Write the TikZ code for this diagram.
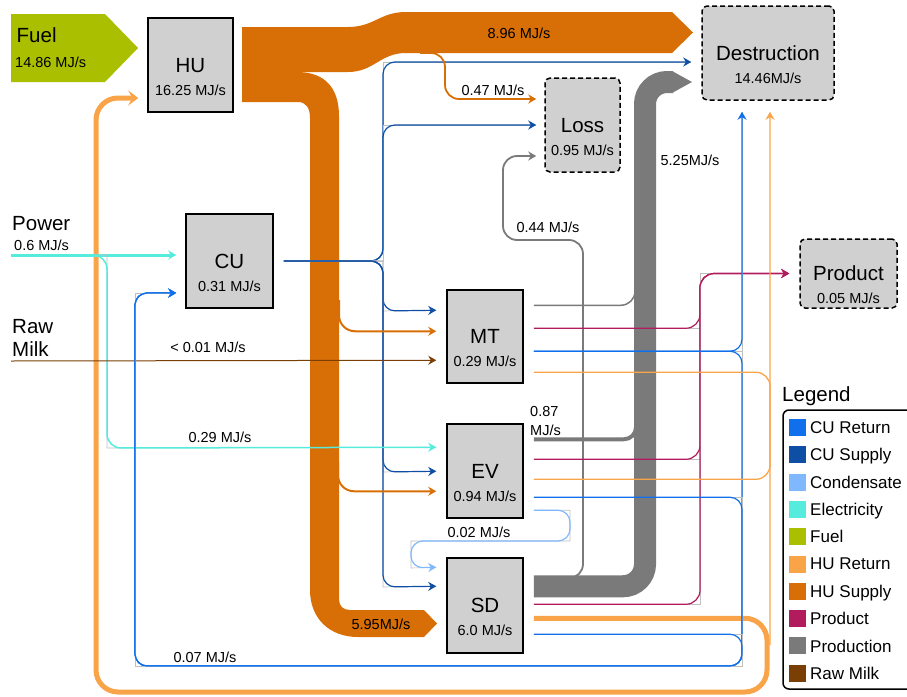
\documentclass[tikz,border=0pt]{standalone}
\usepackage{fontspec}
\setmainfont{Liberation Sans}
\usepackage{tikz}
\usetikzlibrary{arrows.meta,calc}

\definecolor{curet}{RGB}{16,112,236}
\definecolor{cusup}{RGB}{14,78,164}
\definecolor{conden}{RGB}{127,184,252}
\definecolor{elec}{RGB}{85,236,222}
\definecolor{fuel}{RGB}{169,191,0}
\definecolor{huret}{RGB}{249,164,73}
\definecolor{husup}{RGB}{216,111,6}
\definecolor{prodct}{RGB}{178,28,94}
\definecolor{prodn}{RGB}{122,122,122}
\definecolor{rawmilk}{RGB}{122,63,5}
\definecolor{boxgray}{RGB}{208,208,208}

% a flow drawn over its sharp-cornered gray guide
\newcommand{\guided}[2]{\draw[guide] #2; \draw[#1] #2;}

\begin{document}
\begin{tikzpicture}[x=1pt, y=-1pt,
  box/.style={draw=black, line width=1.5pt, fill=boxgray, inner sep=0pt},
  sink/.style={box, rounded corners=5pt, dash pattern=on 5pt off 3pt},
  ttl/.style={font=\fontsize{20.5}{24}\selectfont, inner sep=0pt, text depth=0pt},
  val/.style={font=\fontsize{14.5}{17}\selectfont, inner sep=0pt, text depth=0pt},
  leg/.style={font=\fontsize{17}{20}\selectfont, inner sep=0pt, text depth=0pt, anchor=west},
  guide/.style={draw=black!25, line width=0.6pt},
  tip/.style={-{Stealth[length=8pt,width=9pt]}},
  cs/.style={cusup, line width=1.2pt, rounded corners=12pt, tip},
  cr/.style={curet, line width=1.2pt, rounded corners=12pt},
  el/.style={elec, line width=1.5pt, rounded corners=14pt, tip},
  pr/.style={prodct, line width=1.2pt, rounded corners=14pt, tip},
  cd/.style={conden, line width=1.2pt, rounded corners=12pt, tip}]
\useasboundingbox (0,0) rectangle (907,696);
% units: 1pt = 1px of the sheet, y grows downwards
% process units
\foreach \n/\x/\y/\w/\h/\t/\v in {hu/190.5/65/85/94/HU/{16.25 MJ/s}, cu/229.5/261/87/94/CU/{0.31 MJ/s},
    mt/485/336.5/76/93/MT/{0.29 MJ/s}, ev/485/471/76/94/EV/{0.94 MJ/s}, sd/485/605.5/76/95/SD/{6.0 MJ/s}} {
  \node[box, minimum width=\w pt, minimum height=\h pt] (\n) at (\x,\y) {};
  \node[ttl] (\n-t) at (\x,\y) {\t};
  \node[val] (\n-v) at (\x,\y+25) {\v};
}
% sinks (dashed)
\foreach \n/\x/\y/\w/\h/\t/\v in {loss/582.5/125/75/94/Loss/{0.95 MJ/s}, dest/768/53/132/94/Destruction/{14.46MJ/s},
    product/848.5/273.5/97/69/Product/{0.05 MJ/s}} {
  \node[sink, minimum width=\w pt, minimum height=\h pt] (\n) at (\x,\y) {};
  \node[ttl] (\n-t) at (\x,\y) {\t};
  \node[val] (\n-v) at (\x,\y+25) {\v};
}
% sources
\fill[fuel] (11,14) -- (105,14) -- (138,48) -- (105,82) -- (11,82) -- cycle;
\node[ttl, anchor=west] (fuel-t) at (16.5,35) {Fuel};
\node[val, anchor=west] (fuel-v) at (15,62) {14.86 MJ/s};
\node[ttl, anchor=west] (power-t) at (12,223) {Power};
\node[val, anchor=west] (power-v) at (14,245) {0.6 MJ/s};
\node[ttl, anchor=west] (milk-t1) at (12,326) {Raw};
\node[ttl, anchor=west] (milk-t2) at (12,349) {Milk};

% ports: outputs right of a unit, inputs left of it
\foreach \u/\p/\dy in {mt/1/16, mt/2/39, mt/3/62, mt/4/83, ev/1/16, ev/2/36, ev/3/56, ev/4/74, ev/5/87,
    sd/1/29, sd/2/47, sd/3/61, sd/4/77}
  \coordinate (\u-o\p) at ([shift={(10pt,-\dy pt)}]\u.north east);
\foreach \u/\p/\dy in {mt/1/21, mt/2/42, mt/3/71, ev/1/24, ev/2/48, ev/3/68, sd/1/10, sd/2/29}
  \coordinate (\u-i\p) at ([shift={(-10pt,-\dy pt)}]\u.north west);
\coordinate (cu-o) at ([xshift=10pt]cu.east);
\coordinate (cu-i1) at ([shift={(-9pt,6pt)}]cu.west);
\coordinate (cu-i2) at ([shift={(-9pt,-32pt)}]cu.west);
\coordinate (hu-in) at ([shift={(-9pt,-33pt)}]hu.west);
\coordinate (loss-in1) at ([shift={(-8pt,26pt)}]loss.west);
\coordinate (loss-in2) at ([xshift=-8pt]loss.west);
\coordinate (loss-in3) at ([shift={(-8pt,-31pt)}]loss.west);
\coordinate (dest-in1) at ([shift={(-10pt,-9pt)}]dest.west);
\coordinate (dest-in2) at ([shift={(-26pt,-11pt)}]dest.south);
\coordinate (dest-in3) at ([shift={(2pt,-11pt)}]dest.south);
\coordinate (prod-in) at ([xshift=-10pt]product.west);
% free ends
\coordinate (pow-src) at (11,255);
\coordinate (pow-split) at (88,255);
\coordinate (milk-src) at (11,361);
\coordinate (band-loss) at (420,53);
\coordinate (band-mt) at (339,300);
\coordinate (band-ev) at (338,462);
\coordinate (loss-split) at (560,578);

% HU supply: 8.96 to destruction, the rest down to SD
\fill[husup] (242,27) -- (348,27) .. controls (374,27) and (380,12) .. (406,12) -- (672,12) -- (693,32.5)
  -- (672,53) -- (406,53) .. controls (380,53) and (374,72) .. (348,72) -- (242,72) -- cycle;
\fill[husup] (242,72) -- (297,72) .. controls (325,72) and (339,88) .. (339,116) -- (339,599)
  .. controls (339,606) and (343,610) .. (350,610) -- (424,610) -- (437,623.5) -- (424,637) -- (358,637)
  .. controls (329,637) and (310,618) .. (310,590) -- (310,118) .. controls (310,108) and (306,102) .. (298,102)
  -- (242,102) -- cycle;
% HU return loop back to HU
\draw[huret, line width=5pt, rounded corners=22pt, -{Stealth[length=10pt,width=15pt,inset=4pt]}]
  (sd-o3) -| (767,692) -| (96,98) -- (hu-in);
% production band to destruction
\draw[prodn, line width=22pt, rounded corners=22pt] (sd-o1) -| (645,82) -- (673,82);
\fill[prodn] (672,71) -- (692,82) -- (672,93) -- cycle;
\draw[prodn, line width=1.5pt, rounded corners=14pt] (mt-o1) -| (635,270);
\draw[prodn, line width=4pt, rounded corners=12pt] (ev-o1) -| (636,405);
\draw[prodn, line width=1.8pt, rounded corners=14pt, tip] (loss-split) -| (583,240) -| (503,156) -- (loss-in3);

% CU supply
\foreach \t/\yy in {dest-in1/62, loss-in2/125, mt-i1/311, ev-i2/472, sd-i2/587} {
  \guided{cs}{(cu-o) -| (383,\yy) -- (\t)}
}
% HU supply branches
\draw[husup, line width=1.8pt, rounded corners=14pt, tip] (band-loss) -| (445,99) -- (loss-in1);
\draw[husup, line width=2pt, rounded corners=16pt, tip] (band-mt) |- (mt-i2);
\draw[husup, line width=2pt, rounded corners=16pt, tip] (band-ev) |- (ev-i3);
% electricity
\draw[elec, line width=3pt, tip] (pow-src) -- (cu-i1);
\guided{el}{(pow-split) -| (107,448) -- (ev-i1)}
% raw milk
\draw[rawmilk, line width=1pt, tip] (milk-src) -- (mt-i3);
% product
\foreach \s in {mt-o2, ev-o2, sd-o2} {
  \guided{pr}{(\s) -| (700,273.5) -- (prod-in)}
}
% CU return
\guided{cr, tip}{(mt-o3) -| (dest-in2)}
\foreach \s in {mt-o3, ev-o4, sd-o4} {
  \guided{cr, tip}{(\s) -| (742,666) -| (135,293) -- (cu-i2)}
}
% HU return
\draw[huret, line width=1.3pt, rounded corners=14pt, tip] (ev-o3) -| (dest-in3);
\draw[huret, line width=1.3pt, rounded corners=14pt] (mt-o4) -| (770,645);
% condensate
\guided{cd}{(ev-o5) -| (570,541) -| (411,568) -- (sd-i1)}

% flow values
\node[val] (q896) at (519,33) {8.96 MJ/s};
\node[val] (q595) at (381,624) {5.95MJ/s};
\node[val] (q047) at (493,90) {0.47 MJ/s};
\node[val] (q044) at (548,227) {0.44 MJ/s};
\node[val] (q525) at (690,160) {5.25MJ/s};
\node[val, font=\fontsize{14.5}{19.5}\selectfont, align=left, anchor=west] (q087) at (530,421) {0.87\\MJ/s};
\node[val] (q029) at (220,437) {0.29 MJ/s};
\node[val] (q001) at (208,347) {< 0.01 MJ/s};
\node[val] (q002) at (479,532) {0.02 MJ/s};
\node[val] (q007) at (205,657) {0.07 MJ/s};

% legend
\node[ttl, anchor=west] (leg-head) at (782,394) {Legend};
\draw[line width=1.5pt, rounded corners=6pt] (783,410) rectangle (935,689);
\foreach \c/\t [count=\i from 0] in {curet/CU Return, cusup/CU Supply, conden/Condensate, elec/Electricity,
    fuel/Fuel, huret/HU Return, husup/HU Supply, prodct/Product, prodn/Production, rawmilk/Raw Milk} {
  \fill[fill=\c] (789,{419+27.3*\i}) rectangle +(17,17);
  \node[leg] (leg-\i) at (810,{427.5+27.3*\i}) {\t};
}
\end{tikzpicture}
\end{document}
